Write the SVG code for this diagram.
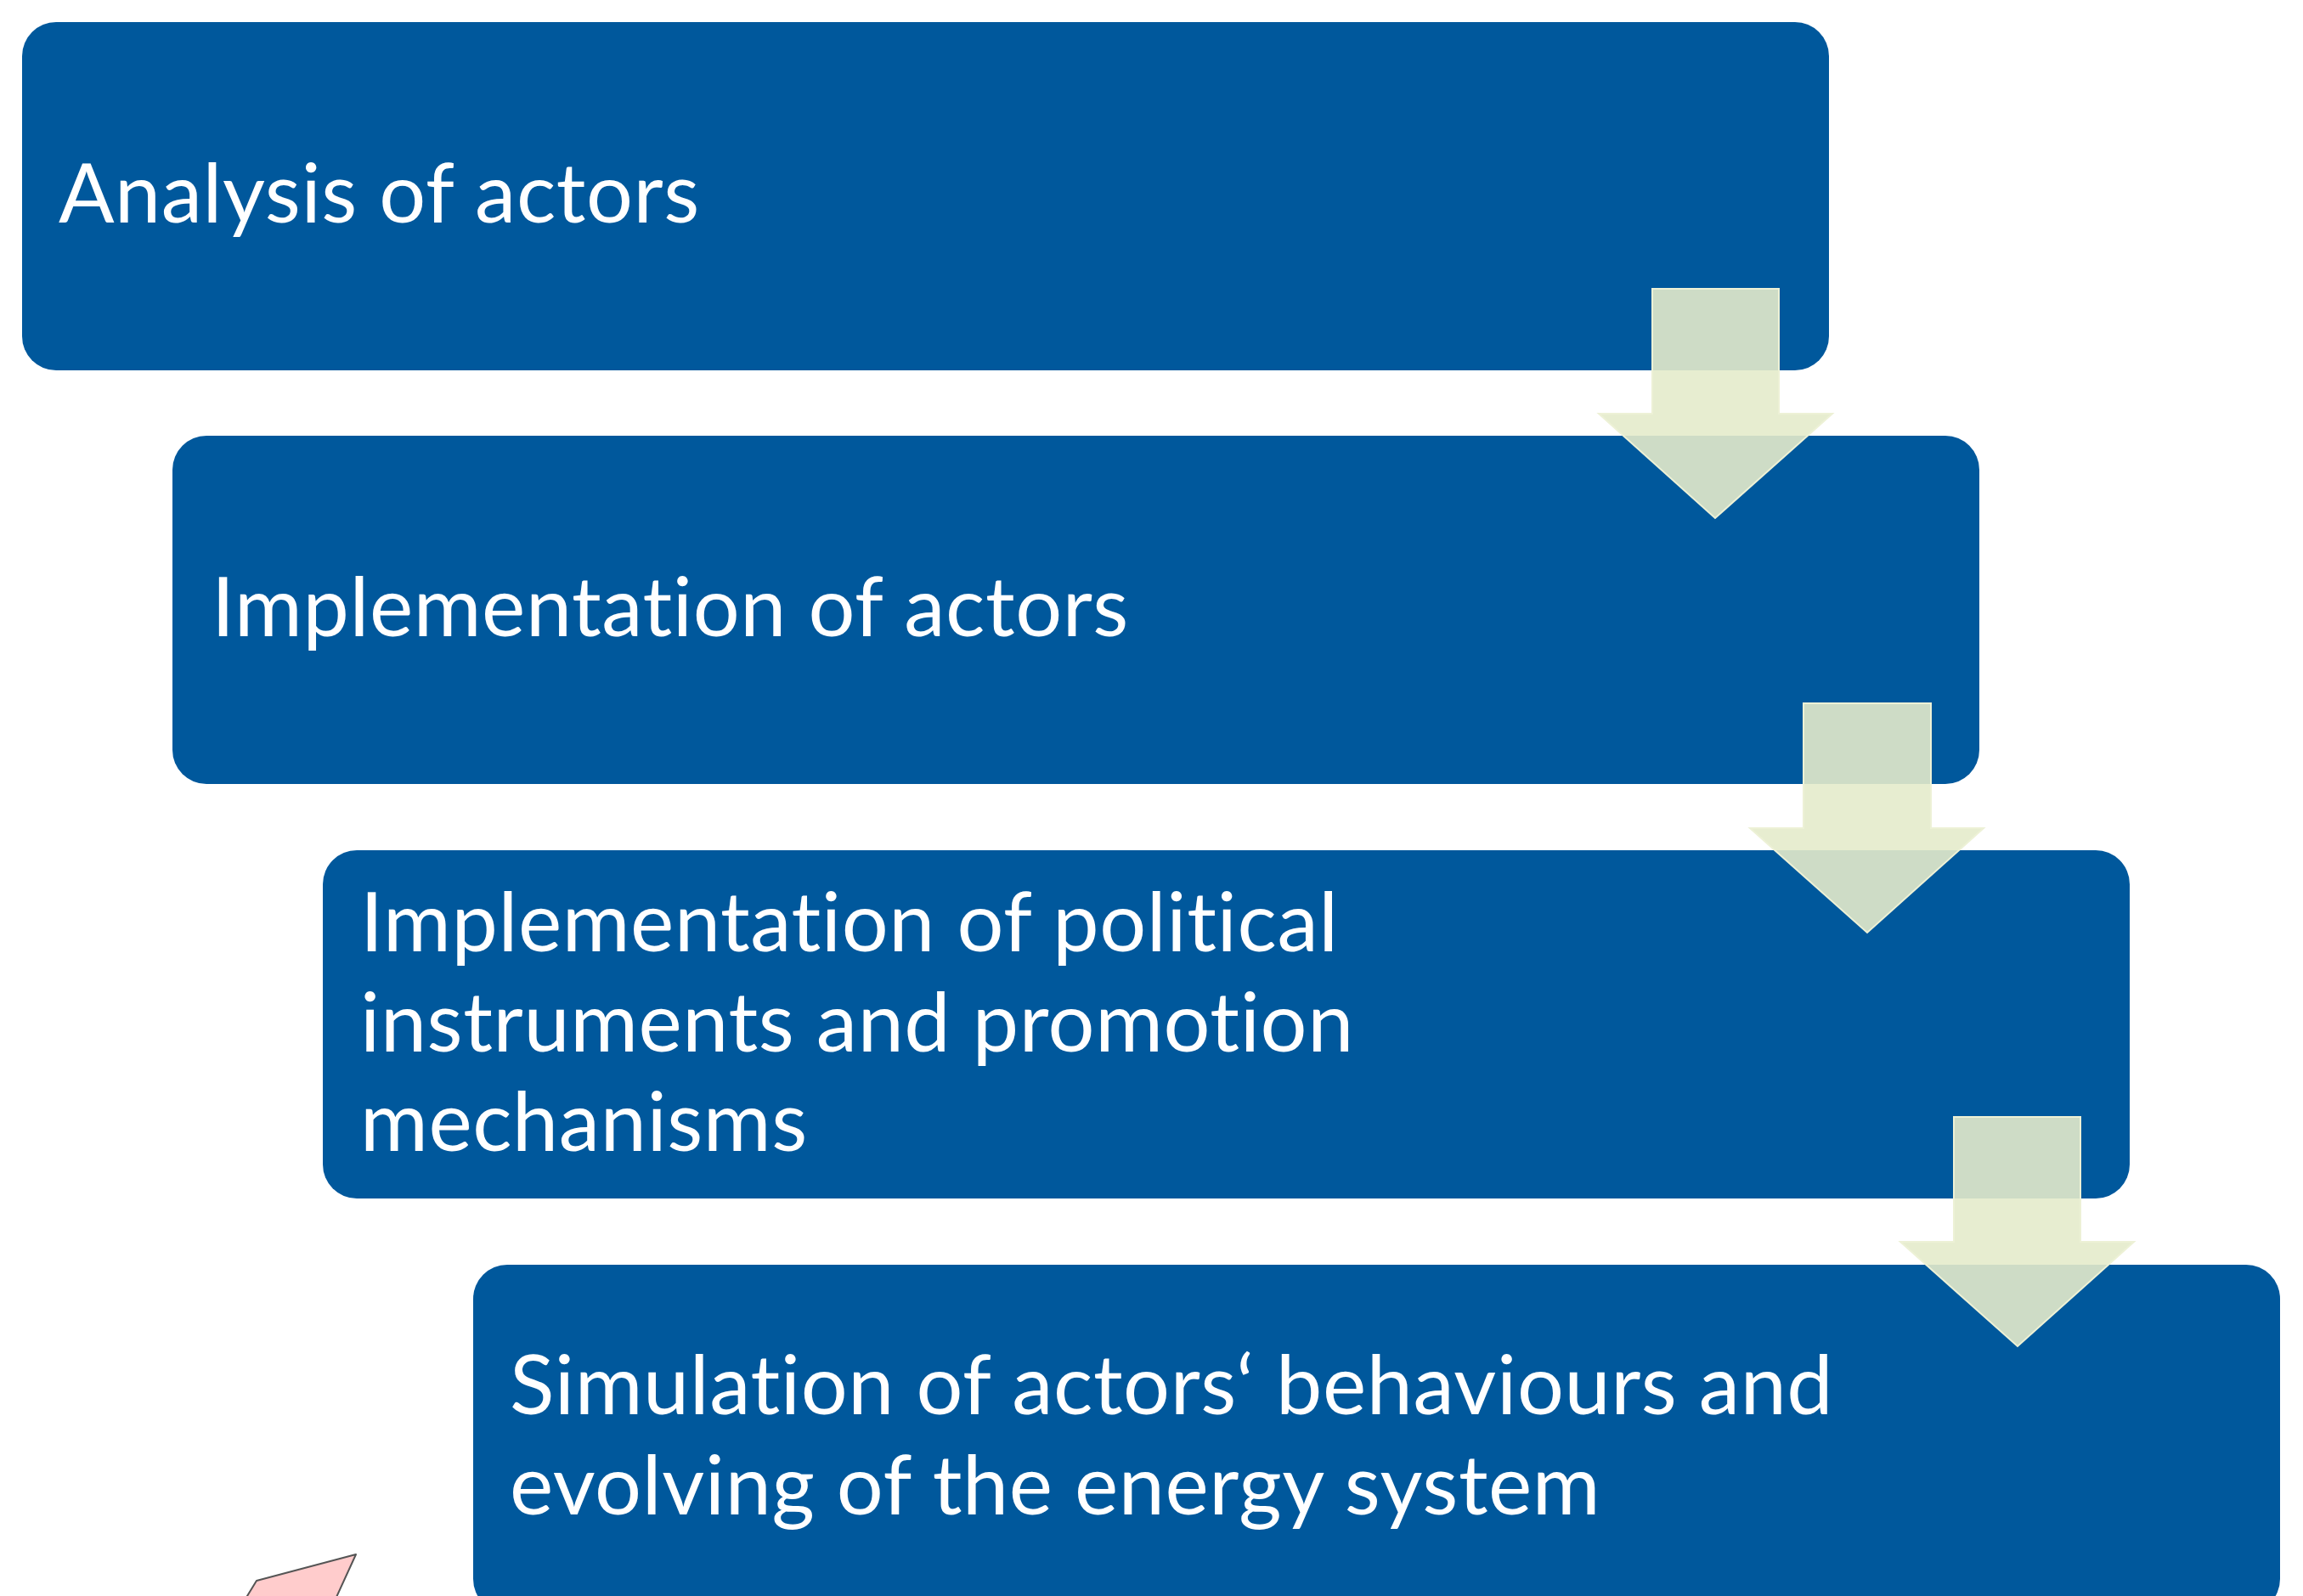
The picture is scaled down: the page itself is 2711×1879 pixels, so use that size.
<svg xmlns="http://www.w3.org/2000/svg" width="2711" height="1879" viewBox="0 0 2711 1879">
  <style>
    .step { fill: #00589c; }
    .label { font-family: Lato, "Liberation Sans", sans-serif; font-size: 97px; fill: #ffffff; letter-spacing: 0.6px; font-variant-ligatures: none; }
    .flow { fill: #e4ebcb; fill-opacity: 0.9; stroke: #edf1d6; stroke-width: 2; }
    .note { fill: #ffcccc; stroke: #555555; stroke-width: 2; stroke-linejoin: round; }
  </style>
  <rect width="2711" height="1879" fill="#ffffff"/>

  <g id="step-1">
    <rect class="step" x="26" y="26" width="2127" height="410" rx="40" ry="40"/>
    <text class="label" x="69" y="262">Analysis of actors</text>
  </g>

  <g id="step-2">
    <rect class="step" x="203" y="513" width="2127" height="410" rx="40" ry="40"/>
    <text class="label" x="249" y="749">Implementation of actors</text>
  </g>

  <g id="step-3">
    <rect class="step" x="380" y="1001" width="2127" height="410" rx="40" ry="40"/>
    <text class="label">
      <tspan x="424" y="1120">Implementation of political</tspan>
      <tspan x="424" y="1238">instruments and promotion</tspan>
      <tspan x="424" y="1355">mechanisms</tspan>
    </text>
  </g>

  <g id="step-4">
    <rect class="step" x="557" y="1489" width="2127" height="410" rx="40" ry="40"/>
    <text class="label">
      <tspan x="600" y="1665">Simulation of actors‘ behaviours and</tspan>
      <tspan x="600" y="1783">evolving of the energy system</tspan>
    </text>
  </g>

  <!-- down arrows between consecutive steps -->
  <g id="connectors">
    <polygon class="flow" points="1945,340 2094,340 2094,487 2157,487 2019,610 1882,487 1945,487"/>
    <polygon class="flow" points="2123,828 2273,828 2273,975 2335,975 2198,1098 2060,975 2123,975"/>
    <polygon class="flow" points="2300,1315 2449,1315 2449,1462 2512,1462 2375,1585 2237,1462 2300,1462"/>
  </g>

  <g id="marker-shape">
    <polygon class="note" points="280,1897 302,1861 419,1830 387,1900"/>
  </g>
</svg>
